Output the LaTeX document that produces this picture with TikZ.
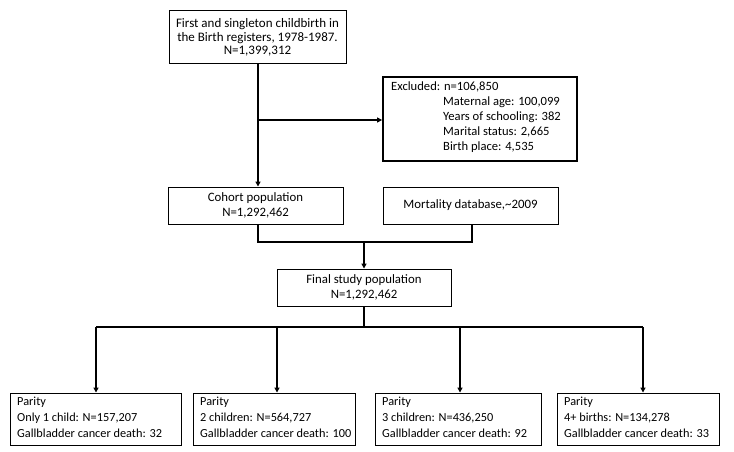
\documentclass[tikz,border=0pt]{standalone}
\usepackage{fontspec}
\setmainfont{Carlito}
\usetikzlibrary{arrows.meta}
\begin{document}
\begin{tikzpicture}[x=1pt,y=-1pt,
  box/.style={draw=black,line width=0.9pt,inner sep=0pt},
  txt/.style={font=\fontsize{12.8}{14.5}\selectfont,align=center,inner sep=0pt},
  ltxt/.style={font=\fontsize{12.3}{16}\selectfont,align=left,inner sep=0pt,anchor=north west},
  conn/.style={line width=1.8pt},
  arr/.style={line width=1.8pt,-{Triangle[length=5pt,width=5pt]}}]
\useasboundingbox (0,0) rectangle (734,452);
% boxes
\node[box,minimum width=177pt,minimum height=53pt] (top) at (257.5,37) {};
\node[txt,font=\fontsize{13}{13.5}\selectfont] (toptxt) at (257.5,37.5) {First and singleton childbirth in\\the Birth registers, 1978-1987.\\N=1,399,312};
\node[box,line width=1.8pt,minimum width=194pt,minimum height=84pt] (exc) at (480,119) {};
\node[font=\fontsize{12.6}{14.8}\selectfont,inner sep=0pt,anchor=north west,align=left] (exct1) at (391,82) {Excluded: n=106,850};
\node[font=\fontsize{12.6}{14.8}\selectfont,inner sep=0pt,anchor=north west,align=left] (exct2) at (443,96.8) {Maternal age: 100,099\\Years of schooling: 382\\Marital status: 2,665\\Birth place: 4,535};
\node[box,minimum width=175pt,minimum height=37pt] (coh) at (255.5,205.5) {};
\node[txt,font=\fontsize{12.8}{15}\selectfont] (cohtxt) at (255.5,205.5) {Cohort population\\N=1,292,462};
\node[box,minimum width=175pt,minimum height=37pt] (mort) at (470.5,205.5) {};
\node[txt] (morttxt) at (mort.center) {Mortality database,\textasciitilde2009};
\node[box,minimum width=174pt,minimum height=37pt] (fin) at (364,287.5) {};
\node[txt] (fintxt) at (fin.center) {Final study population\\N=1,292,462};
\node[box,minimum width=171pt,minimum height=52pt] (p1) at (95.5,419) {};
\node[box,minimum width=162pt,minimum height=52pt] (p2) at (274,419) {};
\node[box,minimum width=166pt,minimum height=52pt] (p3) at (458,419) {};
\node[box,minimum width=162pt,minimum height=52pt] (p4) at (638,419) {};
\node[ltxt] (p1t) at (17,397) {Parity\\Only 1 child: N=157,207\\Gallbladder cancer death: 32};
\node[ltxt] (p2t) at (200,397) {Parity\\2 children: N=564,727\\Gallbladder cancer death: 100};
\node[ltxt] (p3t) at (382,397) {Parity\\3 children: N=436,250\\Gallbladder cancer death: 92};
\node[ltxt] (p4t) at (564,397) {Parity\\4+ births: N=134,278\\Gallbladder cancer death: 33};
% connectors
\coordinate (j1) at (258,120);
\draw[arr] (top.south -| j1) -- (coh.north -| j1);
\draw[arr] (j1) -- (exc.west |- j1);
\coordinate (j2) at (364,242);
\draw[conn] (coh.south -| 258,0) |- (j2) -| (mort.south -| 472,0);
\draw[arr] (j2) -- (fin.north);
\coordinate (j3) at (364,327);
\draw[conn] (fin.south) -- (j3);
\draw[conn] (96,327) -- (643,327);
\draw[arr] (96,327) -- (p1.north -| 96,0);
\draw[arr] (277,327) -- (p2.north -| 277,0);
\draw[arr] (460,327) -- (p3.north -| 460,0);
\draw[arr] (643,327) -- (p4.north -| 643,0);
\end{tikzpicture}
\end{document}
